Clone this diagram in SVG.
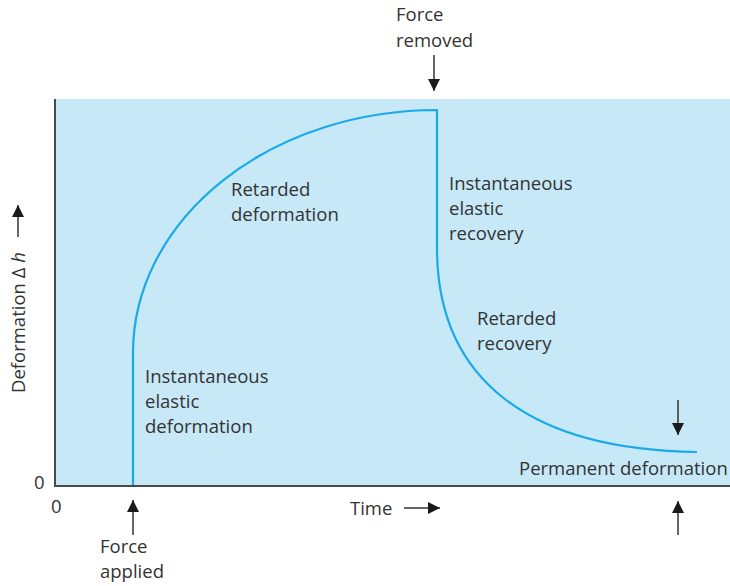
<svg xmlns="http://www.w3.org/2000/svg" width="730" height="586" viewBox="0 0 730 586">
<defs>
<marker id="ah" viewBox="0 0 10 10" refX="10" refY="5" markerWidth="12" markerHeight="12" markerUnits="userSpaceOnUse" orient="auto">
<path d="M0,0 L10,5 L0,10 z" fill="#1a1a1a"/>
</marker>
<style>
text{font-family:"Open Sans","Liberation Sans",sans-serif;font-size:18.5px;fill:#333}
.arr{stroke:#333;stroke-width:1.5;fill:none;marker-end:url(#ah)}
.curve{stroke:#19aaea;stroke-width:2.2;fill:none;stroke-linejoin:round}
</style>
</defs>
<g id="plot">
<rect x="55" y="99" width="680" height="386" fill="#c6e8f7"/>
<line x1="55" y1="99" x2="55" y2="486" stroke="#4a4a4a" stroke-width="2"/>
<line x1="54" y1="486" x2="730" y2="486" stroke="#4a4a4a" stroke-width="2"/>
<text x="34" y="489">0</text>
<text x="51" y="513">0</text>
</g>
<g id="curve">
<path class="curve" d="M133,485 L133,352 A304,243 0 0 1 437,110 L437,250 C438,380 530,450 697,452"/>
</g>
<g id="labels">
<text x="231" y="196">Retarded</text>
<text x="231" y="221">deformation</text>
<text x="145" y="383">Instantaneous</text>
<text x="145" y="408">elastic</text>
<text x="145" y="433">deformation</text>
<text x="449" y="190">Instantaneous</text>
<text x="449" y="215">elastic</text>
<text x="449" y="240">recovery</text>
<text x="477" y="325">Retarded</text>
<text x="477" y="350">recovery</text>
<text x="519" y="475">Permanent deformation</text>
<text x="396" y="21">Force</text>
<text x="396" y="47">removed</text>
<text x="100" y="553">Force</text>
<text x="100" y="578">applied</text>
<text x="350" y="515">Time</text>
<text transform="translate(25,393) rotate(-90)">Deformation Δ <tspan font-style="italic">h</tspan></text>
</g>
<g id="connectors">
<line class="arr" x1="434" y1="55" x2="434" y2="91"/>
<line class="arr" x1="133" y1="535" x2="133" y2="500"/>
<line class="arr" x1="404" y1="508" x2="440" y2="508"/>
<line class="arr" x1="678" y1="400" x2="678" y2="435"/>
<line class="arr" x1="678" y1="535" x2="678" y2="501"/>
<line class="arr" x1="18" y1="237" x2="18" y2="205"/>
</g>
</svg>
